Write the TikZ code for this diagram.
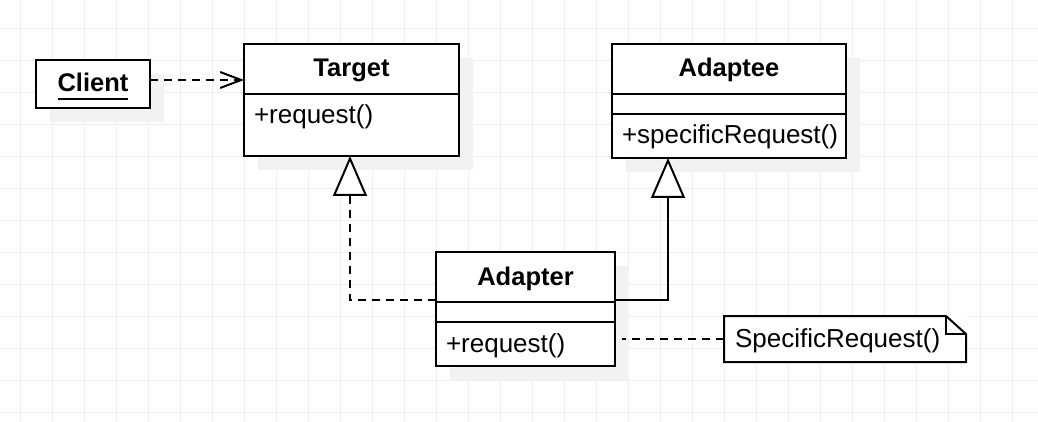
\documentclass[tikz,border=0pt]{standalone}
\usepackage{fontspec}
\setmainfont{Liberation Sans}
\definecolor{gridGray}{RGB}{238,238,238}
\definecolor{shadowGray}{RGB}{242,242,242}
\usepackage{tikz}
\usetikzlibrary{positioning,arrows.meta,shadows}
\newcommand{\umlfont}{\fontsize{26}{30}\selectfont}
\newcommand{\umlboldfont}{\fontsize{25.5}{30}\selectfont\bfseries}
\newcommand{\umlunderline}[1]{\setbox0=\hbox{#1}\rlap{\rule[-7.7pt]{\wd0}{2pt}}\box0}

\begin{document}
\begin{tikzpicture}[x=1pt,y=-1pt,
                gridline/.style={draw=gridGray,line width=1pt},
                umlbox/.style={draw,line width=2pt,fill=white,outer sep=0pt,inner ysep=0pt,inner xsep=10pt,
                              text height=18pt,text depth=2pt,font=\umlfont},
                shadowed/.style={drop shadow={shadow xshift=14pt,shadow yshift=-14pt,fill=shadowGray,opacity=1}},
                classhead/.style={umlbox,shadowed,font=\umlboldfont,minimum height=50pt},
                classbody/.style={umlbox,shadowed,align=left,minimum height=44pt},
                notebox/.style={fill=white,outer sep=0pt,inner ysep=0pt,inner xsep=11pt,align=left,
                              text height=18pt,text depth=2pt,font=\umlfont,minimum width=242pt,text width=220pt,minimum height=46pt},
                umledge/.style={line width=2pt},
                umldash/.style={umledge,dash pattern=on 8pt off 6pt},
                dependency/.style={umldash,-{Straight Barb[length=21pt,width=16pt]}},
                realization/.style={umldash,-{Triangle[fill=white,length=40pt,width=34pt]}},
                generalization/.style={umledge,-{Triangle[fill=white,length=40pt,width=34pt]}}
            ]
                \fill[white] (0,0) rectangle (1038,422);
                \useasboundingbox (0,0) rectangle (1038,422);
                \foreach \gx in {0,...,31}
                    \draw[gridline] ({20.5+32*\gx},0) -- ({20.5+32*\gx},422);
                \foreach \gy in {0,...,12}
                    \draw[gridline] (0,{28.3+32*\gy}) -- (1038,{28.3+32*\gy});

                \node[umlbox,shadowed,font=\umlboldfont,minimum width=114pt,minimum height=48pt] (client) at (93,84) {\umlunderline{Client}};

                \node[classhead,minimum width=215pt] (targethead) at (351.5,69) {Target};
                \node[classbody,minimum width=215pt,text width=195pt,minimum height=62pt,text depth=20pt,below=0pt of targethead] (targetops) {+request()};

                \node[classhead,minimum width=234pt] (adapteehead) at (729,69) {Adaptee};
                \node[classbody,minimum width=234pt,text width=214pt,minimum height=20pt,below=0pt of adapteehead] (adapteeattrs) {};
                \node[classbody,minimum width=234pt,text width=214pt,below=0pt of adapteeattrs] (adapteeops) {+specificRequest()};

                \node[classhead,minimum width=179pt] (adapterhead) at (525.5,277) {Adapter};
                \node[classbody,minimum width=179pt,text width=159pt,minimum height=20pt,below=0pt of adapterhead] (adapterattrs) {};
                \node[classbody,minimum width=179pt,text width=159pt,below=0pt of adapterattrs] (adapterops) {+request()};

                \node[notebox] (note) at (845,339) {SpecificRequest()};
                \draw[umledge,line join=miter] (note.north west) -- ([xshift=-20pt]note.north east) -- ([yshift=-18pt]note.north east)
                    -- (note.south east) -- (note.south west) -- cycle;
                \draw[umledge] ([xshift=-20pt]note.north east) |- ([yshift=-18pt]note.north east);

                \coordinate (clientport) at ([yshift=4pt]client.east);
                \draw[dependency] (clientport) -- (clientport -| targethead.west);
                \draw[realization] ([yshift=2pt]adapterhead.south west) -| ([xshift=-1.5pt]targetops.south);
                \draw[generalization] ([yshift=2pt]adapterhead.south east) -| ([xshift=56pt]adapteeops.south west);
                \draw[umldash,shorten >=7pt] (note.west) -- (note.west -| adapterops.east);
            \end{tikzpicture}
\end{document}
